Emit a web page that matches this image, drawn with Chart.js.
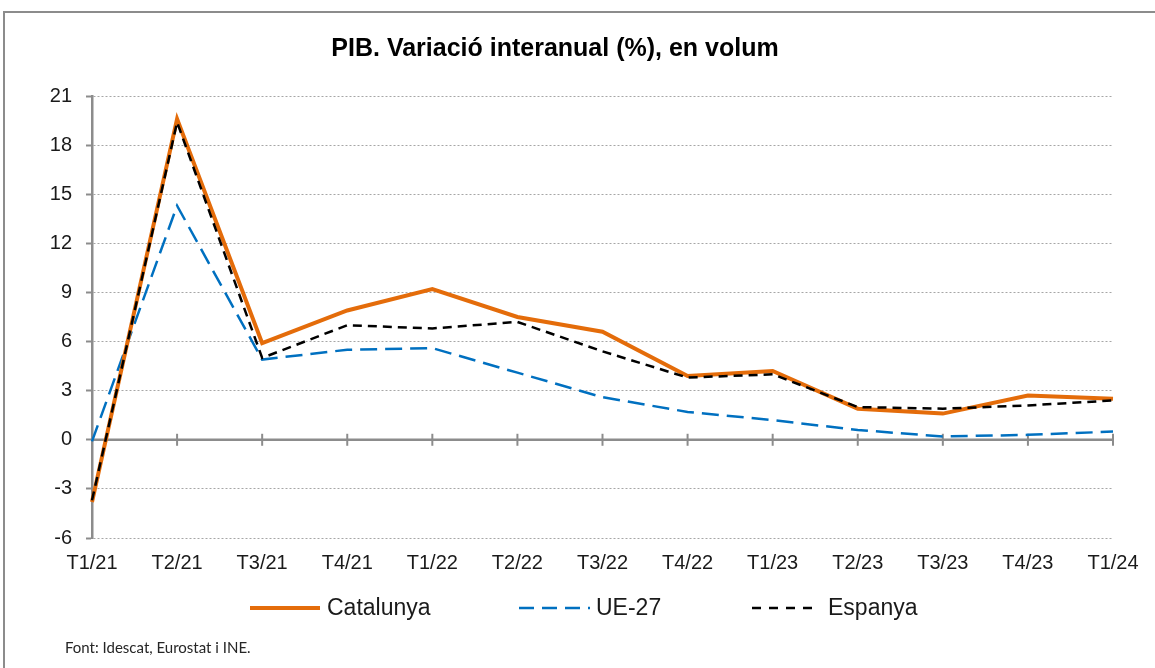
<!DOCTYPE html>
<html lang="ca">
<head>
    <meta charset="UTF-8">
    <title>PIB. Variació interanual (%), en volum</title>
    <script src="https://cdn.jsdelivr.net/npm/chart.js"></script>
    <style>
        html, body {
            margin: 0;
            padding: 0;
            background: #ffffff;
            overflow: hidden;
        }
        .frame {
            position: absolute;
            left: 3px;
            top: 11px;
            width: 1200px;
            height: 700px;
            border: 2px solid #8c8c8c;
            box-sizing: border-box;
        }
        .chart-box {
            position: absolute;
            left: 0;
            top: 0;
            width: 1155px;
            height: 668px;
        }
    </style>
</head>
<body>
    <div class="frame"></div>
    <div class="chart-box">
        <canvas id="pibChart"></canvas>
    </div>

    <script>
        // Quarters and series (annual % change, volume)
        const quarters = ['T1/21', 'T2/21', 'T3/21', 'T4/21', 'T1/22', 'T2/22', 'T3/22',
                          'T4/22', 'T1/23', 'T2/23', 'T3/23', 'T4/23', 'T1/24'];
        const catalunya = [-3.8, 19.6, 5.9, 7.9, 9.2, 7.5, 6.6, 3.9, 4.2, 1.9, 1.6, 2.7, 2.5];
        const ue27      = [-0.1, 14.3, 4.9, 5.5, 5.6, 4.1, 2.6, 1.7, 1.2, 0.6, 0.2, 0.3, 0.5];
        const espanya   = [-3.7, 19.4, 5.0, 7.0, 6.8, 7.2, 5.4, 3.8, 4.0, 2.0, 1.9, 2.1, 2.4];
        const yTicks = [-6, -3, 0, 3, 6, 9, 12, 15, 18, 21];

        const titleText = 'PIB. Variació interanual (%), en volum';
        const sourceText = 'Font: Idescat, Eurostat i INE.';

        const ORANGE = '#E46C0A';
        const BLUE = '#0070C0';
        const BLACK = '#000000';
        const AXIS = '#8c8c8c';
        const SANS = '"Liberation Sans", Arial, sans-serif';

        // zero line with tick marks + title, legend and source text
        const decorPlugin = {
            id: 'decor',
            beforeDatasetsDraw(chart) {
                const ctx = chart.ctx;
                const x = chart.scales.x;
                const y = chart.scales.y;
                const y0 = y.getPixelForValue(0);
                ctx.save();
                ctx.strokeStyle = AXIS;
                ctx.lineWidth = 2.5;
                ctx.setLineDash([]);
                ctx.beginPath();
                ctx.moveTo(chart.chartArea.left, y0);
                ctx.lineTo(chart.chartArea.right, y0);
                ctx.stroke();
                ctx.lineWidth = 2;
                quarters.forEach((q, i) => {
                    const px = x.getPixelForValue(i);
                    ctx.beginPath();
                    ctx.moveTo(px, y0 - 6);
                    ctx.lineTo(px, y0 + 6);
                    ctx.stroke();
                });
                ctx.restore();
            },
            afterDraw(chart) {
                const ctx = chart.ctx;
                ctx.save();

                // title
                ctx.fillStyle = '#000';
                ctx.font = 'bold 25px ' + SANS;
                ctx.textAlign = 'center';
                ctx.textBaseline = 'middle';
                ctx.fillText(titleText, 555, 49);

                // legend
                const items = [
                    { label: 'Catalunya', color: ORANGE, width: 4, dash: [], x1: 250, x2: 320, tx: 327 },
                    { label: 'UE-27', color: BLUE, width: 2.5, dash: [15, 8], x1: 519, x2: 590, tx: 596 },
                    { label: 'Espanya', color: BLACK, width: 2.5, dash: [9, 8], x1: 752, x2: 820, tx: 828 }
                ];
                const ly = 608;
                ctx.font = '23px ' + SANS;
                ctx.textAlign = 'left';
                items.forEach(it => {
                    ctx.strokeStyle = it.color;
                    ctx.lineWidth = it.width;
                    ctx.setLineDash(it.dash);
                    ctx.beginPath();
                    ctx.moveTo(it.x1, ly);
                    ctx.lineTo(it.x2, ly);
                    ctx.stroke();
                    ctx.fillStyle = '#1a1a1a';
                    ctx.fillText(it.label, it.tx, ly + 1);
                });

                // source
                ctx.setLineDash([]);
                ctx.fillStyle = '#262626';
                ctx.font = '15px Lato, "Open Sans", sans-serif';
                ctx.fillText(sourceText, 65, 648);
                ctx.restore();
            }
        };

        function createChart() {
            new Chart(document.getElementById('pibChart'), {
                type: 'line',
                data: {
                    labels: quarters,
                    datasets: [
                        {
                            label: 'Catalunya',
                            data: catalunya,
                            borderColor: ORANGE,
                            backgroundColor: ORANGE,
                            borderWidth: 4,
                            order: 2
                        },
                        {
                            label: 'UE-27',
                            data: ue27,
                            borderColor: BLUE,
                            backgroundColor: BLUE,
                            borderWidth: 2.5,
                            borderDash: [17, 8],
                            order: 3
                        },
                        {
                            label: 'Espanya',
                            data: espanya,
                            borderColor: BLACK,
                            backgroundColor: BLACK,
                            borderWidth: 2.5,
                            borderDash: [9, 6],
                            order: 1
                        }
                    ]
                },
                options: {
                    responsive: true,
                    maintainAspectRatio: false,
                    animation: false,
                    elements: {
                        point: { radius: 0, hoverRadius: 0 },
                        line: { tension: 0, borderJoinStyle: 'miter' }
                    },
                    layout: {
                        padding: { left: 0, right: 42, top: 96, bottom: 80 }
                    },
                    plugins: {
                        legend: { display: false },
                        title: { display: false },
                        tooltip: { enabled: false }
                    },
                    scales: {
                        x: {
                            offset: false,
                            grid: { display: false, drawTicks: false },
                            border: { display: false },
                            ticks: {
                                color: '#1a1a1a',
                                font: { family: SANS, size: 20 },
                                padding: 13,
                                maxRotation: 0,
                                autoSkip: false
                            }
                        },
                        y: {
                            min: -6,
                            max: 21,
                            afterBuildTicks(scale) {
                                scale.ticks = yTicks.map(v => ({ value: v }));
                            },
                            afterFit(scale) {
                                scale.width = 92;
                            },
                            grid: {
                                color: '#a6a6a6',
                                lineWidth: 1,
                                drawTicks: true,
                                tickLength: 6,
                                tickColor: AXIS,
                                tickWidth: 2,
                                tickBorderDash: []
                            },
                            border: {
                                display: true,
                                color: AXIS,
                                width: 2.5,
                                dash: [2, 2]
                            },
                            ticks: {
                                color: '#1a1a1a',
                                font: { family: SANS, size: 20 },
                                padding: 14
                            }
                        }
                    }
                },
                plugins: [decorPlugin]
            });
        }

        document.addEventListener('DOMContentLoaded', createChart);
    </script>
</body>
</html>
